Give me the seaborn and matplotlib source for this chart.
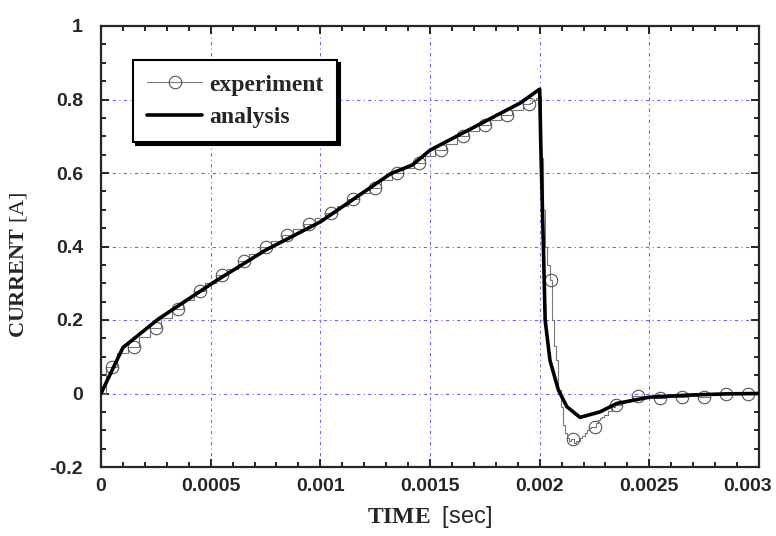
import numpy as np
import pandas as pd
import matplotlib
matplotlib.use("Agg")
import matplotlib.pyplot as plt
import seaborn as sns
from matplotlib.lines import Line2D
from matplotlib.ticker import MultipleLocator

# measured current (sampled, drawn as a staircase), time in ms
exp_time_ms = [0.00, 0.05, 0.10, 0.15, 0.20, 0.25, 0.30, 0.35, 0.40, 0.45,
               0.50, 0.55, 0.60, 0.65, 0.70, 0.75, 0.80, 0.85, 0.90, 0.95,
               1.00, 1.05, 1.10, 1.15, 1.20, 1.25, 1.30, 1.35, 1.40, 1.45,
               1.50, 1.55, 1.60, 1.65, 1.70, 1.75, 1.80, 1.85, 1.90, 1.95,
               1.96, 1.97, 1.98, 1.99, 2.00, 2.01, 2.02, 2.03, 2.04, 2.05,
               2.06, 2.07, 2.08, 2.09, 2.10, 2.11, 2.12, 2.13, 2.14, 2.15,
               2.16, 2.17, 2.18, 2.19, 2.20, 2.21, 2.22, 2.23, 2.24, 2.25,
               2.26, 2.27, 2.28, 2.29, 2.30, 2.32, 2.34, 2.35, 2.36, 2.38,
               2.40, 2.45, 2.50, 2.55, 2.60, 2.65, 2.70, 2.75, 2.80, 2.85,
               2.90, 2.95, 3.00]
exp_current = [0.0, 0.073, 0.11, 0.127, 0.155, 0.179, 0.205, 0.229, 0.255, 0.28,
               0.30, 0.322, 0.34, 0.36, 0.38, 0.40, 0.415, 0.43, 0.447, 0.462,
               0.477, 0.49, 0.51, 0.53, 0.545, 0.558, 0.58, 0.599, 0.613, 0.628,
               0.645, 0.663, 0.68, 0.70, 0.715, 0.73, 0.745, 0.758, 0.772, 0.787,
               0.79, 0.795, 0.80, 0.805, 0.81, 0.64, 0.50, 0.40, 0.35, 0.31,
               0.20, 0.13, 0.09, 0.01, -0.036, -0.086, -0.108, -0.12, -0.13, -0.125,
               -0.136, -0.13, -0.128, -0.12, -0.115, -0.108, -0.10, -0.095, -0.09, -0.09,
               -0.08, -0.073, -0.068, -0.063, -0.058, -0.048, -0.036, -0.03, -0.03, -0.025,
               -0.02, -0.007, -0.01, -0.011, -0.01, -0.009, -0.008, -0.01, -0.005, -0.001,
               0.0, 0.0, 0.0]

# simulated current
ana_time_ms = [0, 0.1, 0.26, 0.52, 0.75, 1.0, 1.32, 1.42, 1.5, 1.82, 1.91, 2.0,
               2.005, 2.017, 2.025, 2.047, 2.085, 2.124, 2.184, 2.275, 2.352,
               2.5, 2.69, 2.85, 3.0]
ana_current = [0, 0.125, 0.202, 0.305, 0.39, 0.467, 0.598, 0.622, 0.662, 0.762, 0.79, 0.828,
               0.68, 0.40, 0.20, 0.09, 0.01, -0.036, -0.065, -0.05, -0.027,
               -0.01, -0.004, -0.001, 0.0]

x_ticks = [0, 0.0005, 0.001, 0.0015, 0.002, 0.0025, 0.003]
x_tick_labels = ["0", "0.0005", "0.001", "0.0015", "0.002", "0.0025", "0.003"]
y_ticks = [-0.2, 0, 0.2, 0.4, 0.6, 0.8, 1]
y_tick_labels = ["-0.2", "0", "0.2", "0.4", "0.6", "0.8", "1"]

exp = pd.DataFrame({"time": np.array(exp_time_ms) * 1e-3, "current": exp_current})
ana = pd.DataFrame({"time": np.array(ana_time_ms) * 1e-3, "current": ana_current})
# circles every 0.1 ms (at 0.05, 0.15, ...)
marks = exp[np.isclose((np.array(exp_time_ms) * 100) % 10, 5)]

sns.set_style("ticks")
plt.rcParams["font.family"] = ["Liberation Sans", "DejaVu Sans"]
plt.rcParams["mathtext.fontset"] = "custom"
plt.rcParams["mathtext.rm"] = "Liberation Serif"
plt.rcParams["mathtext.bf"] = "Liberation Serif:bold"
plt.rcParams["mathtext.sf"] = "Liberation Sans"

fig = plt.figure(figsize=(7.76, 5.36), dpi=100)
ax = fig.add_axes([101 / 776, 69 / 536, 658 / 776, 441 / 536])

gray = "#777777"
sns.lineplot(data=exp, x="time", y="current", estimator=None, sort=False,
             drawstyle="steps-mid", color=gray, linewidth=0.8, ax=ax)
sns.lineplot(data=marks, x="time", y="current", estimator=None, sort=False,
             linestyle="none", marker="o", markersize=9, markerfacecolor="none",
             markeredgecolor="#555555", markeredgewidth=0.8, ax=ax)
sns.lineplot(data=ana, x="time", y="current", estimator=None, sort=False,
             color="black", linewidth=2.6, ax=ax, zorder=3)

ax.set_xlim(0, 0.003)
ax.set_ylim(-0.2, 1)
ax.set_xticks(x_ticks)
# last label is drawn separately so it is not cut at the figure edge
ax.set_xticklabels(x_tick_labels[:-1] + [""])
ax.set_yticks(y_ticks)
ax.set_yticklabels(y_tick_labels)
ax.xaxis.set_minor_locator(MultipleLocator(0.0001))
ax.yaxis.set_minor_locator(MultipleLocator(0.05))
ax.tick_params(which="both", direction="in", top=True, right=True, width=1.4)
ax.tick_params(which="major", length=6)
ax.tick_params(which="minor", length=3.5)
ax.tick_params(axis="x", which="major", pad=8)
ax.tick_params(axis="y", which="major", pad=13)
for lab in ax.get_xticklabels() + ax.get_yticklabels():
    lab.set_fontweight("bold")
    lab.set_fontsize(14)
ax.annotate(x_tick_labels[-1], xy=(x_ticks[-1], 0), xycoords=("data", "axes fraction"),
            xytext=(9.5, -8), textcoords="offset points", ha="right", va="top",
            fontsize=14, fontweight="bold", annotation_clip=False)
for sp in ax.spines.values():
    sp.set_linewidth(1.6)

ax.grid(True, which="major", color="#6a6aea", linestyle=(0, (3, 3, 1, 3)), linewidth=0.8)

ax.set_xlabel(r"$\mathbf{TIME}$  $\mathsf{[sec]}$", fontsize=17, family="Liberation Serif")
ax.set_ylabel(r"$\mathbf{CURRENT}$ [A]", fontsize=16, family="Liberation Serif")
ax.xaxis.set_label_coords(0.5, -0.085)
ax.xaxis.label.set_va("top")
ax.yaxis.set_label_coords(-0.11, 0.458)

handles = [Line2D([], [], color=gray, lw=0.8, marker="o", markersize=9,
                  markerfacecolor="none", markeredgecolor="#555555", markeredgewidth=0.8),
           Line2D([], [], color="black", lw=2.6)]
leg = ax.legend(handles, ["experiment", "analysis"], loc="upper left",
                bbox_to_anchor=(0.049, 0.923), borderaxespad=0, fancybox=False,
                edgecolor="black", framealpha=1, shadow={"color": "black", "alpha": 1},
                prop=dict(family="Liberation Serif", weight="bold", size=17),
                handlelength=2.3, handletextpad=0.3, borderpad=0.6, labelspacing=0.45)
leg.get_frame().set_linewidth(1.5)

fig.savefig("out.png", dpi=100)
